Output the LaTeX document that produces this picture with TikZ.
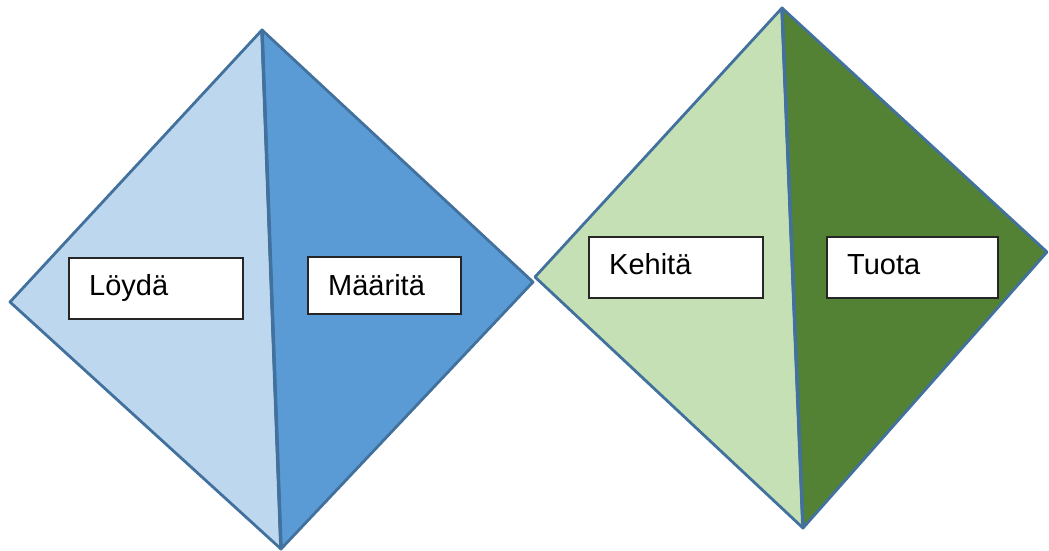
\documentclass[tikz,border=0pt]{standalone}
\usepackage{fontspec}
\setmainfont{Liberation Sans}
\definecolor{edgeblue}{HTML}{41719C}
\definecolor{lightblue}{HTML}{BDD7EE}
\definecolor{midblue}{HTML}{5B9BD5}
\definecolor{lightgreen}{HTML}{C5E0B4}
\definecolor{darkgreen}{HTML}{548235}
\tikzset{
  half/.style={draw=edgeblue, line width=2.8bp, line join=round},
  split/.style={draw=edgeblue, line width=3.5bp},
  label/.style={draw=black!85, fill=white, line width=1.6bp,
    inner sep=0pt, anchor=north west},
  word/.style={anchor=base west, font=\fontsize{29bp}{32bp}\selectfont, inner sep=0pt}
}
\begin{document}
\begin{tikzpicture}[x=1bp, y=-1bp]
\useasboundingbox (0,0) rectangle (1049,551);
% left diamond corners
\coordinate (lt) at (262,30);
\coordinate (lb) at (281,549);
\coordinate (ll) at (10,302);
\coordinate (lr) at (533,282);
% right diamond corners
\coordinate (rt) at (782,8);
\coordinate (rb) at (803,528);
\coordinate (rl) at (535,277);
\coordinate (rr) at (1047,252);
% halves
\path[half, fill=lightblue] (lt) -- (ll) -- (lb) -- cycle;
\path[half, fill=midblue] (lt) -- (lr) -- (lb) -- cycle;
\path[half, fill=lightgreen] (rt) -- (rl) -- (rb) -- cycle;
\path[half, fill=darkgreen] (rt) -- (rr) -- (rb) -- cycle;
\draw[split] (lt) -- (lb);
\draw[split] (rt) -- (rb);
% labels
\node[label, minimum width=174bp, minimum height=61bp] (loyda) at (68,257) {};
\node[word] at (89,296) {Löydä};
\node[label, minimum width=153bp, minimum height=57bp] (maarita) at (307,256) {};
\node[word] at (328,296) {Määritä};
\node[label, minimum width=174bp, minimum height=61bp] (kehita) at (588,236) {};
\node[word] at (609,275) {Kehitä};
\node[label, minimum width=171bp, minimum height=61bp] (tuota) at (826,236) {};
\node[word] at (847,275) {Tuota};
\end{tikzpicture}
\end{document}
